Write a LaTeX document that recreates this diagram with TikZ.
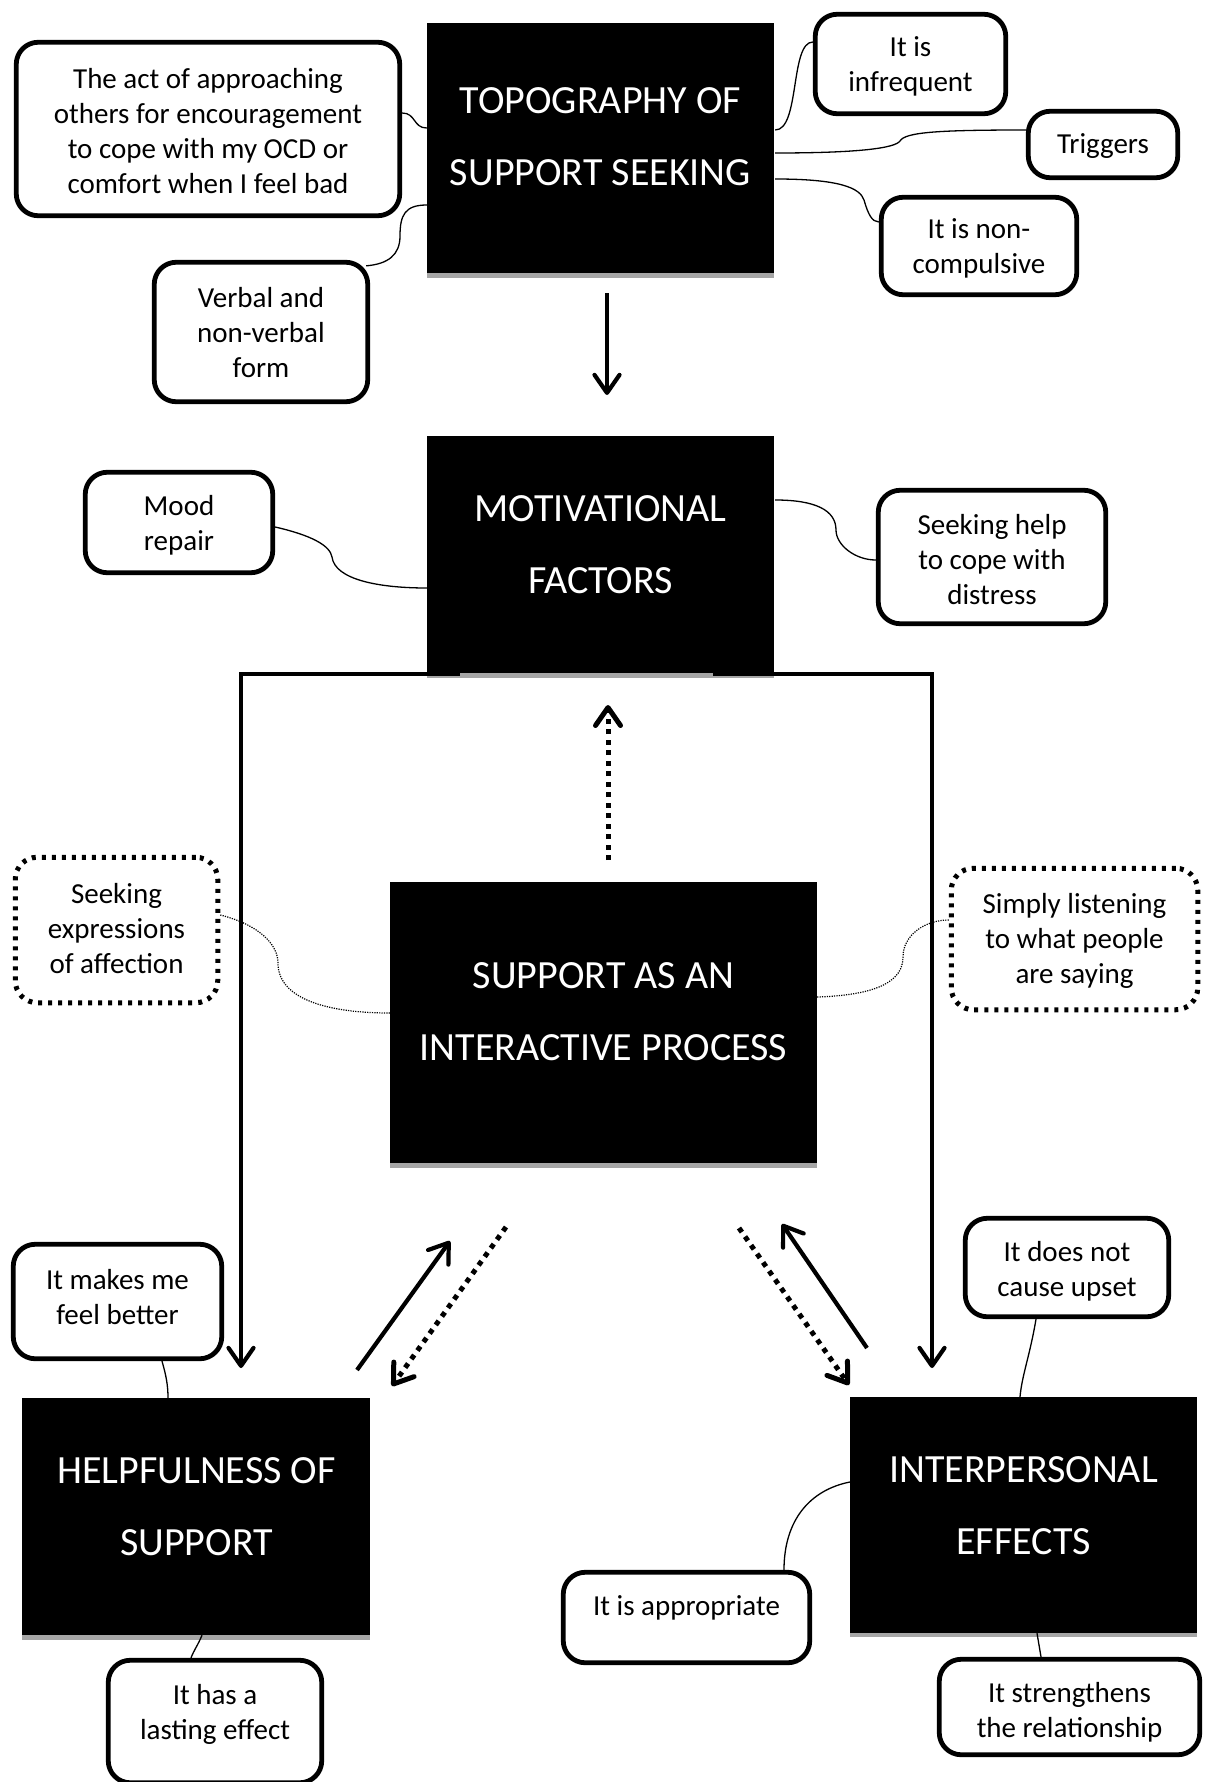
\documentclass[tikz,border=0pt]{standalone}
\usepackage{fontspec}
\setmainfont{Carlito}
\usetikzlibrary{arrows.meta,calc}
\tikzset{
  rbox/.style={draw, line width=4.8pt, rounded corners=22pt, fill=white, align=center, inner sep=0pt, font=\fontsize{29}{35}\selectfont},
  dbox/.style={rbox, line width=5pt, dash pattern=on 4pt off 6pt},
  bbox/.style={fill=black, draw=none, inner sep=0pt},
  btext/.style={text=white, align=center, font=\fontsize{40}{72}\selectfont, inner sep=0pt},
  stxt/.style={align=center, font=\fontsize{29}{35}\selectfont, inner sep=0pt},
  gstrip/.style={fill=black!35},
  conn/.style={line width=1.3pt},
  dconn/.style={line width=1.2pt, dash pattern=on 1.2pt off 1.2pt},
  arr/.style={line width=4.2pt, -{Straight Barb[length=18pt,width=25pt,round]}},
  darr/.style={arr, line width=5pt, dash pattern=on 5pt off 5.5pt},
}
\begin{document}
\begin{tikzpicture}[x=1pt,y=-1pt]
\useasboundingbox (0,0) rectangle (1211,1782);

% black boxes
\node[bbox, minimum width=347, minimum height=250] (topo) at (600.5,148) {};
\fill[gstrip] (topo.south west) rectangle ($(topo.south east)+(0,5)$);
\node[btext] (topot) at (600.5,137) {TOPOGRAPHY OF\\SUPPORT SEEKING};

\node[bbox, minimum width=347, minimum height=237] (motiv) at (600.5,554.5) {};
\fill[gstrip] (motiv.south west) rectangle ($(motiv.south east)+(0,5)$);
\node[btext] (motivt) at (600.5,544.5) {MOTIVATIONAL\\FACTORS};

\node[bbox, minimum width=427, minimum height=281] (support) at (603.5,1022.5) {};
\fill[gstrip] (support.south west) rectangle ($(support.south east)+(0,5)$);
\node[btext] (supportt) at (603.5,1011.5) {SUPPORT AS AN\\INTERACTIVE PROCESS};

\node[bbox, minimum width=348, minimum height=237] (helpful) at (196,1516.5) {};
\fill[gstrip] (helpful.south west) rectangle ($(helpful.south east)+(0,5)$);
\node[btext] (helpfult) at (196.5,1507) {HELPFULNESS OF\\SUPPORT};

\node[bbox, minimum width=347, minimum height=236] (interp) at (1023.5,1515) {};
\fill[gstrip] (interp.south west) rectangle ($(interp.south east)+(0,4)$);
\node[btext] (interpt) at (1023.5,1505.5) {INTERPERSONAL\\EFFECTS};

% rounded boxes
\node[rbox, minimum width=383.5, minimum height=173.5] (act) at (208,129) {};
\node[stxt] (actt) at (208,131) {The act of approaching\\others for encouragement\\to cope with my OCD or\\comfort when I feel bad};
\node[rbox, minimum width=190.5, minimum height=99.5] (infreq) at (910.5,64) {};
\node[stxt] (infreqt) at (910.5,66) {It is\\infrequent};
\node[rbox, minimum width=149.5, minimum height=66.5] (triggers) at (1103,144.5) {};
\node[stxt] (triggerst) at (1103,146) {Triggers};
\node[rbox, minimum width=195.5, minimum height=97.5] (noncomp) at (979,246) {};
\node[stxt] (noncompt) at (979,248) {It is non-\\compulsive};
\node[rbox, minimum width=213.5, minimum height=139.5] (verbal) at (261,332) {};
\node[stxt] (verbalt) at (261,333) {Verbal and\\non-verbal\\form};
\node[rbox, minimum width=187.5, minimum height=100.5] (mood) at (179,522.5) {};
\node[stxt] (moodt) at (179,525.5) {Mood\\repair};
\node[rbox, minimum width=227.5, minimum height=133.5] (seekhelp) at (992,557) {};
\node[stxt] (seekhelpt) at (992,560) {Seeking help\\to cope with\\distress};
\node[dbox, minimum width=202.5, minimum height=145.5] (seekexp) at (116.5,930) {};
\node[stxt] (seekexpt) at (116.5,929) {Seeking\\expressions\\of affection};
\node[dbox, minimum width=246.5, minimum height=141.5] (listen) at (1074.5,939) {};
\node[stxt] (listent) at (1074.5,941) {Simply listening\\to what people\\are saying};
\node[rbox, minimum width=208.5, minimum height=114.5] (better) at (117.5,1301.5) {};
\node[stxt] (bettert) at (117.5,1297) {It makes me\\feel better};
\node[rbox, minimum width=213.5, minimum height=122.5] (lasting) at (215,1721.5) {};
\node[stxt] (lastingt) at (215,1714) {It has a\\lasting effect};
\node[rbox, minimum width=203.5, minimum height=98.5] (upset) at (1067,1267.5) {};
\node[stxt] (upsett) at (1067,1271) {It does not\\cause upset};
\node[rbox, minimum width=246.5, minimum height=90.5] (approp) at (686.5,1617.5) {};
\node[stxt] (appropt) at (686.5,1608) {It is appropriate};
\node[rbox, minimum width=260.5, minimum height=95.5] (strength) at (1069.5,1707) {};
\node[stxt] (strengtht) at (1069.5,1712) {It strengthens\\the relationship};

% thin connectors
\draw[conn] ($(act.east)+(0,-16)$) .. controls (416,113) and (413,128) .. ($(topo.west)+(0,-20)$);
\draw[conn] ($(topo.west)+(0,57)$) .. controls (405,205) and (400,215) .. (400,236) .. controls (400,255) and (388,264) .. ($(verbal.north east)+(-4,6)$);
\draw[conn] ($(topo.east)+(1,-18)$) .. controls (800,130) and (790,42) .. ($(infreq.west)+(0,-22)$);
\draw[conn] ($(topo.east)+(1,5)$) .. controls (860,153) and (895,148) .. (900,141) .. controls (905,132) and (940,130) .. ($(triggers.west)+(0,-14.5)$);
\draw[conn] ($(topo.east)+(1,31)$) .. controls (840,179) and (860,188) .. (864,200) .. controls (868,214) and (872,222) .. ($(noncomp.west)+(0,-24)$);
\draw[conn] ($(mood.east)+(0,4.5)$) .. controls (310,535) and (330,545) .. (332,557) .. controls (335,580) and (380,588) .. ($(motiv.west)+(0,33.5)$);
\draw[conn] ($(motiv.east)+(1,-54.5)$) .. controls (815,500) and (836,510) .. (836,530) .. controls (836,545) and (855,560) .. ($(seekhelp.west)+(0,3)$);
\draw[dconn] ($(seekexp.east)+(0,-15)$) .. controls (260,925) and (278,945) .. (278,963) .. controls (278,1000) and (330,1013) .. ($(support.west)+(0,-9.5)$);
\draw[dconn] ($(support.east)+(0,-25.5)$) .. controls (880,995) and (903,980) .. (903,957) .. controls (903,935) and (925,920) .. ($(listen.west)+(0,-19)$);
\draw[conn] ($(better.south)+(44.5,0)$) .. controls (166,1375) and (168,1385) .. ($(helpful.north)+(-28,0)$);
\draw[conn] ($(helpful.south)+(6,0)$) .. controls (198,1645) and (194,1650) .. ($(lasting.north)+(-24,0)$);
\draw[conn] ($(upset.south)+(-31,0)$) .. controls (1030,1355) and (1022,1375) .. ($(interp.north)+(-3.5,0)$);
\draw[conn] ($(interp.west)+(0,-33)$) .. controls (810,1490) and (784,1520) .. ($(approp.north)+(97.5,0)$);
\draw[conn] ($(interp.south)+(13.5,0)$) -- ($(strength.north)+(-28.5,0)$);

% arrows
\coordinate (a1s) at (607,293); \coordinate (a1e) at (607,395);
\draw[arr] (a1s) -- (a1e);
\coordinate (tipL) at (241,1368); \coordinate (tipR) at (932,1368);
\draw[arr] ($(motiv.south west)+(33,1)$) -| (tipL);
\draw[arr] ($(motiv.south east)+(-61,1)$) -| (tipR);
\coordinate (d1s) at (608,860); \coordinate (d1e) at (608,705);
\draw[darr] (d1s) -- (d1e);
\coordinate (ls) at (357,1370); \coordinate (le) at (450,1241);
\draw[arr] (ls) -- (le);
\coordinate (lds) at (506,1227); \coordinate (lde) at (392,1386);
\draw[darr] (lds) -- (lde);
\coordinate (rds) at (739,1228); \coordinate (rde) at (849,1385);
\draw[darr] (rds) -- (rde);
\coordinate (rs) at (867,1348); \coordinate (re) at (782,1224);
\draw[arr] (rs) -- (re);
\end{tikzpicture}
\end{document}
